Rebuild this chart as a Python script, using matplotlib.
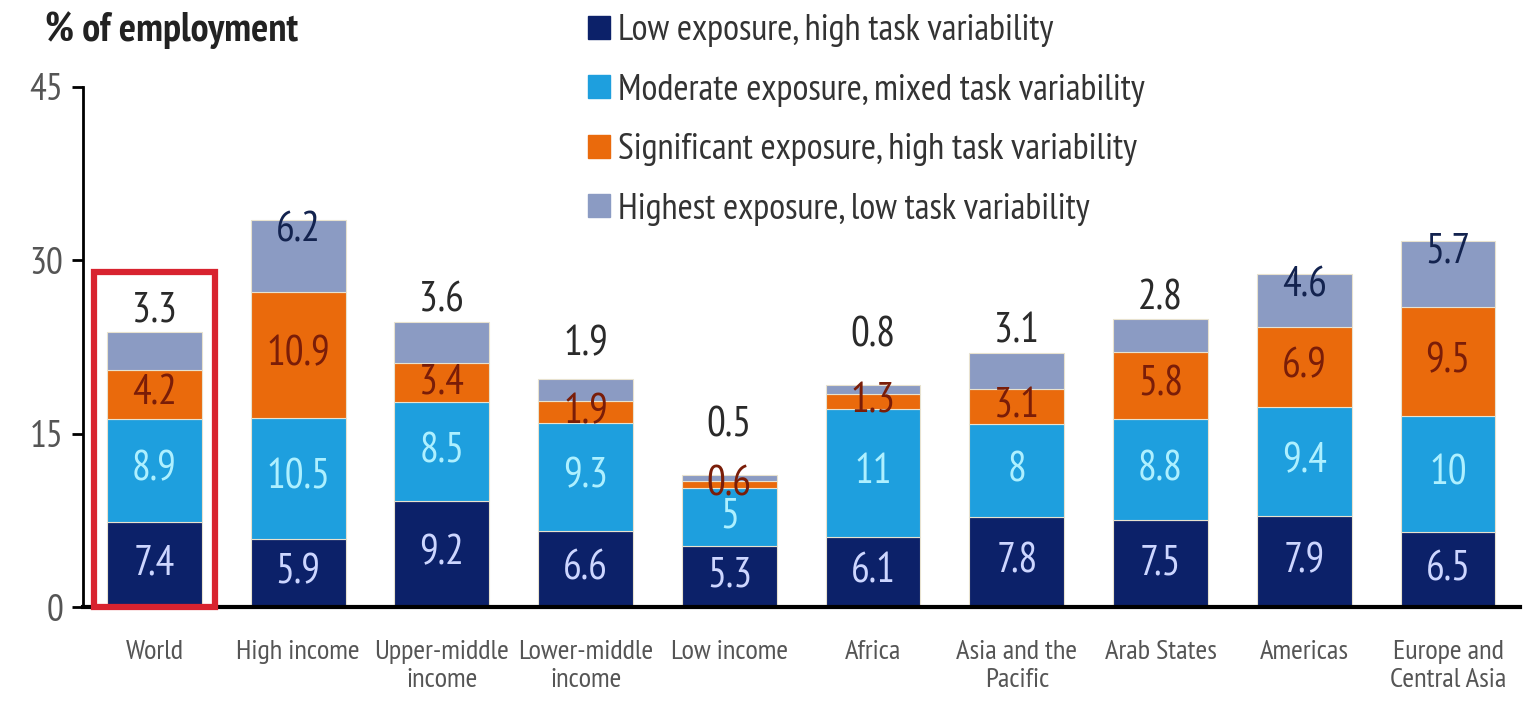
import matplotlib
matplotlib.use("Agg")
import matplotlib.pyplot as plt
import numpy as np
from matplotlib import font_manager
from matplotlib.patches import Rectangle, Patch

# pick a narrow humanist font that has a regular weight
fonts = font_manager.fontManager.ttflist
wanted = ["PT Sans Narrow", "Fira Sans Condensed", "Open Sans Condensed",
          "Roboto Condensed", "Asap Condensed", "Archivo Narrow", "Liberation Sans"]
narrow = []
for fam in wanted:
    if any(f.name == fam and f.style == "normal" and f.weight in (400, "normal", "regular")
           for f in fonts):
        narrow = [fam]
        break
plt.rcParams['font.family'] = narrow + ['DejaVu Sans']

categories = ["World", "High income", "Upper-middle\nincome", "Lower-middle\nincome",
              "Low income", "Africa", "Asia and the\nPacific", "Arab States",
              "Americas", "Europe and\nCentral Asia"]
low_exp = [7.4, 5.9, 9.2, 6.6, 5.3, 6.1, 7.8, 7.5, 7.9, 6.5]
moderate_exp = [8.9, 10.5, 8.5, 9.3, 5, 11, 8, 8.8, 9.4, 10]
significant_exp = [4.2, 10.9, 3.4, 1.9, 0.6, 1.3, 3.1, 5.8, 6.9, 9.5]
highest_exp = [3.3, 6.2, 3.6, 1.9, 0.5, 0.8, 3.1, 2.8, 4.6, 5.7]

series = [low_exp, moderate_exp, significant_exp, highest_exp]
names = ["Low exposure, high task variability",
         "Moderate exposure, mixed task variability",
         "Significant exposure, high task variability",
         "Highest exposure, low task variability"]
colors = ["#0c2169", "#1e9fde", "#ea6a0c", "#8b9bc3"]
text_colors = ["#cdd6ff", "#aef0ff", "#7a1d08", "#13234f"]

fig = plt.figure(figsize=(15.29, 7.01), dpi=100)
ax = fig.add_axes([0.054, 0.134, 0.94, 0.742])

x = np.arange(len(categories))
width = 0.66
bottom = np.zeros(len(categories))
for vals, col, tcol in zip(series, colors, text_colors):
    vals = np.array(vals, dtype=float)
    ax.bar(x, vals, width, bottom=bottom, color=col, edgecolor="#e8e2cf",
           linewidth=0.8, zorder=2)
    if col != colors[-1]:
        for xi, b, v in zip(x, bottom, vals):
            ax.text(xi, b + v / 2, f"{v:g}", ha="center", va="center",
                    fontsize=30, color=tcol, zorder=3)
    bottom = bottom + vals

# labels for the top segment: inside when tall, above the bar otherwise
for xi, top, v, sig in zip(x, bottom, highest_exp, significant_exp):
    if v >= 4.5:
        ax.text(xi, top - 1.0, f"{v:g}", ha="center", va="center",
                fontsize=30, color=text_colors[-1], zorder=3)
    else:
        off = 2.6 if sig < 1.5 else (1.3 if sig < 2.5 else 0.1)
        ax.text(xi, top + off, f"{v:g}", ha="center", va="bottom",
                fontsize=30, color="#2a2a2a", zorder=3)

# red box around World
ax.add_patch(Rectangle((-0.42, 0), 0.84, 29.0, fill=False, edgecolor="#d8232f",
                       linewidth=4.5, zorder=4, clip_on=False))

ax.set_xlim(-0.5, 9.5)
ax.set_ylim(0, 45)
ax.set_yticks([0, 15, 30, 45])
ax.set_xticks(x, labels=categories)
ax.tick_params(axis="y", length=8, width=2, labelsize=27, labelcolor="#555555", pad=6)
ax.tick_params(axis="x", length=0, labelsize=20.5, labelcolor="#555555", pad=24)
for spine in ["top", "right"]:
    ax.spines[spine].set_visible(False)
ax.spines["left"].set_linewidth(2)
ax.spines["bottom"].set_linewidth(3)

fig.text(45 / 1529, 1 - 30 / 701, "% of employment", fontsize=29,
         fontweight="bold", color="#222222", va="center", ha="left")

handles = [Patch(color=c) for c in colors]
fig.legend(handles, names, loc="upper left", bbox_to_anchor=(555 / 1529, 1.027),
           frameon=False, fontsize=26.5, handlelength=0.6, handleheight=0.6,
           handletextpad=0.2, labelspacing=0.72, labelcolor="#333333")

fig.savefig("out.png", dpi=100)
